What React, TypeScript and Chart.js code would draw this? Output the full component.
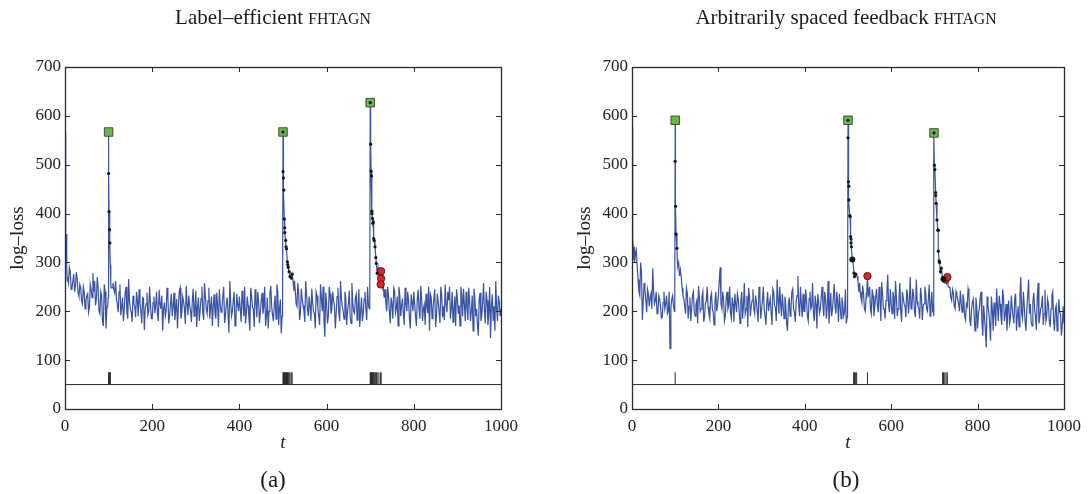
import React, { useEffect, useRef } from 'react';
import { Chart, registerables } from 'chart.js';

Chart.register(...registerables);

type P = [number, number];

const FONT = '"Liberation Serif", "Times New Roman", serif';
const STEP = 4; // main samples at t = 0, 4, 8, ...; mid samples at t = 2, 6, 10, ...
const MID_OFFSET = 2;
const X_MIN = 0;
const X_MAX = 1000;
const Y_MIN = 0;
const Y_MAX = 700;
const X_STEP = 200;
const Y_STEP = 100;
const FEEDBACK_BASE = 50;
const FEEDBACK_TOP = 75;

const titleA = 'Label–efficient';
const titleB = 'Arbitrarily spaced feedback';
const methodName = 'FHTAGN';
const yLabel = 'log–loss';
const xLabel = 't';

// ---------- Panel (a) ----------
// log-loss at t = 0, 4, 8, ..., 1000
const logLossA: number[] = [
  560, 285, 258, 282, 248, 276, 252, 266, 230, 248,
  215, 240, 222, 236, 208, 245, 278, 262, 225, 248,
  195, 232, 170, 240, 205, 250, 250, 248, 245, 262,
  215, 240, 192, 228, 205, 250, 185, 220, 198, 232,
  210, 240, 190, 218, 175, 226, 205, 238, 200, 215,
  185, 230, 212, 196, 244, 205, 160, 218, 200, 228,
  192, 236, 210, 182, 225, 208, 248, 198, 220, 174,
  215, 232, 200, 222, 190, 242, 208, 180, 226, 198,
  258, 205, 222, 185, 230, 210, 196, 238, 168, 215,
  204, 250, 192, 228, 156, 218, 200, 240, 185, 214,
  230, 178, 222, 250, 196, 212, 160, 230, 205, 245,
  188, 220, 198, 238, 210, 170, 228, 200, 252, 192,
  214, 184, 240, 206, 155, 560, 480, 360, 320, 290,
  270, 248, 255, 210, 238, 195, 225, 200, 262, 205,
  230, 180, 218, 195, 240, 206, 172, 228, 250, 148,
  215, 190, 236, 205, 222, 165, 230, 198, 262, 210,
  184, 226, 200, 242, 175, 218, 196, 235, 208, 168,
  228, 195, 240, 182, 212, 620, 420, 380, 330, 290,
  270, 260, 250, 238, 215, 250, 200, 228, 185, 242,
  206, 170, 232, 212, 195, 248, 200, 222, 165, 218,
  240, 190, 226, 205, 252, 180, 214, 236, 196, 160,
  228, 205, 245, 190, 218, 176, 232, 210, 255, 198,
  222, 185, 240, 202, 170, 226, 212, 250, 190, 215,
  240, 182, 220, 200, 160, 228, 205, 150, 238, 192,
  258, 175, 222, 198, 145, 235, 210, 262, 180, 220,
  205,
];
// log-loss at t = 2, 6, 10, ..., 998
const logLossAMid: number[] = [
  300, 270, 290, 245, 262, 240, 280, 238, 255, 222,
  250, 205, 232, 198, 255, 228, 240, 212, 270, 200,
  240, 180, 255, 165, 228, 400, 248, 258, 238, 225,
  198, 255, 210, 180, 238, 198, 266, 205, 178, 215,
  188, 222, 245, 200, 228, 162, 215, 192, 250, 185,
  218, 196, 240, 180, 215, 232, 205, 190, 248, 175,
  215, 190, 238, 202, 165, 240, 185, 230, 205, 252,
  192, 212, 178, 246, 205, 168, 228, 202, 250, 182,
  230, 195, 248, 210, 170, 235, 185, 212, 245, 198,
  232, 176, 215, 195, 262, 190, 224, 170, 236, 200,
  205, 242, 190, 175, 230, 185, 248, 208, 168, 220,
  240, 176, 222, 195, 250, 190, 165, 238, 210, 180,
  232, 255, 172, 224, 250, 450, 380, 340, 300, 275,
  265, 230, 215, 258, 182, 246, 212, 178, 236, 190,
  212, 246, 200, 165, 232, 190, 255, 200, 180, 238,
  175, 250, 195, 240, 212, 196, 248, 180, 225, 200,
  240, 172, 215, 190, 258, 200, 228, 182, 245, 200,
  180, 225, 206, 250, 165, 600, 400, 380, 320, 280,
  270, 260, 250, 240, 200, 232, 175, 215, 248, 196,
  230, 250, 190, 226, 172, 215, 240, 185, 235, 200,
  215, 170, 244, 185, 226, 205, 172, 210, 250, 235,
  185, 225, 168, 236, 200, 250, 188, 182, 215, 240,
  250, 205, 178, 230, 245, 195, 170, 232, 246, 180,
  210, 248, 180, 232, 246, 190, 172, 226, 180, 220,
  200, 240, 172, 250, 212, 180, 160, 205, 232, 190,
];

// finely sampled stretches around the spikes: [t, log-loss]
const spikesA: P[][] = [
  [[0, 565], [1, 430], [2, 300], [3, 358], [4, 288], [5, 262]],
  [[98, 212], [99, 228], [100, 567], [100, 482], [101, 404], [102, 367], [103, 340], [104, 295], [105, 255], [106, 248]],
  [[498, 190], [499, 210], [500, 567], [500, 486], [501, 473], [502, 448], [503, 389], [504, 371], [504, 361], [506, 345], [507, 332], [508, 328], [510, 301], [511, 295], [512, 290], [514, 281], [516, 271], [519, 268], [521, 276], [523, 262], [525, 242], [527, 255], [529, 232]],
  [[698, 205], [699, 215], [700, 627], [701, 542], [702, 487], [703, 477], [704, 405], [704, 400], [705, 390], [706, 380], [707, 383], [708, 349], [709, 345], [711, 332], [713, 310], [714, 298], [716, 278], [718, 290], [720, 272], [722, 280], [723, 262], [724, 255], [726, 268], [728, 248], [730, 255], [732, 228], [734, 245]],
];

const squaresA: P[] = [[100, 567], [500, 567], [700, 627]];
const dotsA: P[] = [
  [100, 482], [101, 404], [102, 367], [103, 340],
  [500, 567], [500, 486], [501, 473], [502, 448], [503, 389], [504, 371], [504, 361], [506, 345], [507, 332], [508, 328], [510, 301], [511, 295], [512, 290], [514, 281], [516, 271], [519, 268], [521, 276],
  [700, 627], [701, 542], [702, 487], [703, 477], [704, 405], [704, 400], [705, 390], [706, 380], [707, 383], [708, 349], [709, 345], [711, 332], [713, 310], [714, 298], [716, 278],
];
const bigDotsA: P[] = [];
const redsA: P[] = [[725, 282], [725, 267], [724, 255]];
const feedbackA: number[] = [
  100, 101, 102, 103, 104,
  500, 501, 502, 503, 504, 506, 507, 508, 510, 511, 512, 514, 516, 519, 521,
  700, 701, 702, 703, 704, 705, 706, 708, 709, 711, 713, 714, 716, 720, 724, 725,
];

// ---------- Panel (b) ----------
const logLossB: number[] = [
  575, 330, 318, 292, 240, 300, 182, 258, 222, 245,
  210, 236, 288, 215, 240, 198, 225, 186, 218, 205,
  232, 200, 124, 225, 212, 250, 250, 300, 285, 248,
  225, 195, 238, 210, 180, 232, 200, 215, 175, 228,
  205, 240, 190, 222, 210, 185, 236, 198, 218, 200,
  232, 290, 205, 222, 190, 240, 212, 196, 228, 178,
  215, 236, 200, 222, 185, 258, 205, 168, 230, 210,
  245, 195, 220, 178, 232, 205, 250, 190, 216, 200,
  226, 172, 240, 208, 265, 195, 218, 236, 185, 212,
  160, 228, 205, 246, 198, 220, 272, 190, 215, 236,
  200, 222, 180, 240, 210, 195, 232, 165, 218, 205,
  250, 190, 226, 210, 175, 238, 202, 256, 195, 220,
  236, 185, 214, 198, 175, 590, 450, 360, 300, 280,
  272, 255, 240, 218, 236, 200, 272, 230, 205, 245,
  190, 228, 212, 250, 180, 236, 205, 222, 275, 198,
  216, 240, 185, 230, 205, 258, 178, 226, 210, 245,
  195, 270, 210, 232, 188, 220, 205, 248, 182, 215,
  236, 200, 255, 210, 198, 565, 490, 420, 330, 290,
  268, 262, 250, 240, 248, 222, 238, 205, 232, 215,
  242, 198, 225, 182, 210, 235, 170, 218, 192, 228,
  165, 205, 240, 150, 188, 126, 212, 175, 230, 160,
  198, 246, 180, 215, 172, 228, 195, 160, 222, 185,
  208, 175, 236, 190, 168, 270, 185, 212, 160, 232,
  195, 178, 220, 205, 162, 258, 188, 210, 172, 244,
  190, 215, 168, 232, 180, 205, 160, 225, 195, 170,
  175,
];
const logLossBMid: number[] = [
  340, 305, 325, 265, 232, 280, 220, 245, 198, 235,
  228, 205, 240, 222, 195, 232, 210, 188, 240, 215,
  195, 240, 205, 232, 215, 400, 295, 295, 270, 232,
  210, 248, 185, 228, 205, 240, 190, 222, 252, 200,
  230, 178, 216, 250, 195, 228, 205, 172, 240, 212,
  262, 215, 240, 180, 225, 205, 250, 185, 215, 236,
  198, 225, 175, 240, 212, 195, 232, 248, 190, 222,
  205, 232, 198, 250, 185, 222, 205, 172, 240, 215,
  198, 246, 212, 180, 225, 250, 190, 208, 230, 175,
  215, 190, 240, 205, 178, 232, 210, 250, 188, 200,
  245, 190, 226, 205, 258, 180, 215, 236, 196, 230,
  212, 240, 185, 262, 205, 190, 228, 210, 240, 178,
  210, 228, 190, 245, 210, 450, 400, 350, 310, 275,
  265, 240, 228, 252, 205, 230, 215, 250, 195, 232,
  210, 246, 198, 226, 260, 205, 185, 238, 212, 245,
  195, 228, 262, 190, 225, 200, 240, 215, 188, 232,
  220, 205, 246, 198, 265, 210, 185, 230, 212, 250,
  205, 225, 190, 240, 180, 500, 440, 380, 300, 280,
  265, 260, 255, 250, 228, 245, 210, 240, 225, 200,
  218, 235, 190, 215, 246, 182, 205, 225, 160, 210,
  195, 228, 178, 212, 160, 230, 196, 140, 205, 218,
  170, 210, 232, 190, 245, 180, 215, 202, 175, 232,
  190, 225, 160, 210, 232, 195, 240, 178, 205, 265,
  215, 170, 238, 190, 225, 175, 205, 232, 195, 180,
  225, 180, 205, 240, 160, 212, 185, 198, 150, 210,
];

const spikesB: P[][] = [
  [[0, 577], [1, 460], [2, 350], [3, 330], [4, 305], [5, 332], [6, 300]],
  [[98, 200], [99, 222], [100, 591], [100, 507], [101, 415], [102, 358], [104, 329], [105, 300], [106, 292], [108, 300], [110, 272]],
  [[498, 188], [499, 200], [500, 591], [500, 555], [501, 465], [502, 456], [502, 428], [504, 396], [505, 394], [506, 353], [507, 348], [507, 340], [508, 332], [510, 306], [511, 305], [514, 278], [515, 271], [518, 276], [521, 272], [523, 262], [525, 240], [527, 258]],
  [[543, 225], [545, 272], [547, 230]],
  [[697, 205], [698, 190], [699, 565], [700, 499], [701, 490], [703, 443], [703, 437], [704, 421], [706, 387], [708, 366], [709, 366], [709, 323], [711, 303], [712, 300], [714, 281], [716, 288], [719, 269], [721, 266], [723, 262], [726, 265], [728, 258], [730, 270], [732, 250]],
];

const squaresB: P[] = [[100, 591], [500, 591], [699, 565]];
const dotsB: P[] = [
  [100, 507], [101, 415], [102, 358], [104, 329],
  [500, 591], [500, 555], [501, 465], [502, 456], [502, 428], [504, 396], [505, 394], [506, 353], [507, 348], [507, 340], [508, 332], [511, 305], [514, 278], [515, 271], [518, 276],
  [699, 565], [700, 499], [701, 490], [703, 443], [703, 437], [704, 421], [706, 387], [708, 366], [709, 366], [709, 323], [711, 303], [712, 300], [714, 281], [716, 288], [719, 269],
];
const bigDotsB: P[] = [[510, 306], [721, 266]];
const redsB: P[] = [[545, 272], [726, 265], [730, 270]];
const feedbackB: number[] = [100, 513, 515, 517, 520, 545, 719, 721, 724, 727, 730];

// ---------- helpers ----------
function buildLine(main: number[], mid: number[], spikes: P[][]) {
  const pts: { x: number; y: number }[] = [];
  const covered = (t: number) => spikes.some((s) => t >= s[0][0] && t <= s[s.length - 1][0]);
  main.forEach((v, i) => {
    const t = i * STEP;
    if (!covered(t)) pts.push({ x: t, y: v });
  });
  mid.forEach((v, i) => {
    const t = i * STEP + MID_OFFSET;
    if (!covered(t)) pts.push({ x: t, y: v });
  });
  spikes.forEach((s) => s.forEach(([x, y]) => pts.push({ x, y })));
  pts.sort((a, b) => a.x - b.x);
  return pts;
}

function toPts(arr: P[]) {
  return arr.map(([x, y]) => ({ x, y }));
}

function buildRug(times: number[]) {
  const out: { x: number; y: number | null }[] = [];
  times.forEach((t) => {
    out.push({ x: t, y: FEEDBACK_BASE }, { x: t, y: FEEDBACK_TOP }, { x: t, y: null });
  });
  return out;
}

const boxPlugin = {
  id: 'matlabBox',
  afterDatasetsDraw(chart: any) {
    const { ctx, chartArea } = chart;
    const { left, right, top, bottom } = chartArea;
    const xs = chart.scales.x;
    const ys = chart.scales.y;
    const L = 5;
    ctx.save();
    ctx.strokeStyle = '#2a2a2a';
    ctx.lineWidth = 1;
    ctx.beginPath();
    xs.ticks.forEach((t: any) => {
      const px = Math.round(xs.getPixelForValue(t.value)) + 0.5;
      ctx.moveTo(px, bottom);
      ctx.lineTo(px, bottom - L);
      ctx.moveTo(px, top);
      ctx.lineTo(px, top + L);
    });
    ys.ticks.forEach((t: any) => {
      const py = Math.round(ys.getPixelForValue(t.value)) + 0.5;
      ctx.moveTo(left, py);
      ctx.lineTo(left + L, py);
      ctx.moveTo(right, py);
      ctx.lineTo(right - L, py);
    });
    ctx.stroke();
    ctx.lineWidth = 1.3;
    ctx.strokeRect(Math.round(left) + 0.5, Math.round(top) + 0.5, Math.round(right - left), Math.round(bottom - top));
    ctx.restore();
  },
};

interface PanelCfg {
  main: number[];
  mid: number[];
  spikes: P[][];
  squares: P[];
  dots: P[];
  bigDots: P[];
  reds: P[];
  rug: number[];
  rightPad: number;
}

function makeChart(canvas: HTMLCanvasElement, cfg: PanelCfg) {
  const tickFont = { family: FONT, size: 17 };
  const plain = (v: any) => String(v);
  return new Chart(canvas, {
    type: 'line',
    data: {
      datasets: [
        {
          data: toPts(cfg.dots),
          showLine: false,
          pointRadius: 1.6,
          pointBackgroundColor: '#151515',
          pointBorderWidth: 0,
          order: 0,
        } as any,
        {
          data: toPts(cfg.bigDots),
          showLine: false,
          pointRadius: 3,
          pointBackgroundColor: '#151515',
          pointBorderWidth: 0,
          order: 1,
        } as any,
        {
          data: toPts(cfg.reds),
          showLine: false,
          pointRadius: 3.7,
          pointBackgroundColor: '#e5202a',
          pointBorderColor: '#3b1a1a',
          pointBorderWidth: 0.9,
          order: 1,
        } as any,
        {
          data: toPts(cfg.squares),
          showLine: false,
          pointStyle: 'rect',
          pointRadius: 6,
          pointBackgroundColor: '#66bb44',
          pointBorderColor: '#4a4a4a',
          pointBorderWidth: 1,
          order: 2,
        } as any,
        {
          data: buildLine(cfg.main, cfg.mid, cfg.spikes),
          borderColor: '#3853a6',
          borderWidth: 1.2,
          pointRadius: 0,
          tension: 0,
          order: 3,
        } as any,
        {
          data: [
            { x: X_MIN, y: FEEDBACK_BASE },
            { x: X_MAX, y: FEEDBACK_BASE },
          ],
          borderColor: '#2a2a2a',
          borderWidth: 1,
          pointRadius: 0,
          order: 4,
        } as any,
        {
          data: buildRug(cfg.rug),
          borderColor: '#2a2a2a',
          borderWidth: 1,
          pointRadius: 0,
          spanGaps: false,
          order: 4,
        } as any,
      ],
    },
    options: {
      animation: false,
      responsive: false,
      events: [],
      layout: { padding: { left: 0, top: 67, right: cfg.rightPad, bottom: 40 } },
      plugins: {
        legend: { display: false },
        tooltip: { enabled: false },
        title: { display: false },
      },
      scales: {
        x: {
          type: 'linear',
          min: X_MIN,
          max: X_MAX,
          ticks: { stepSize: X_STEP, font: tickFont, color: '#222', padding: 7, maxRotation: 0, autoSkip: false, callback: plain },
          grid: { display: false, drawTicks: false },
          border: { display: false },
          title: {
            display: true,
            text: xLabel,
            color: '#222',
            font: { family: FONT, size: 19, style: 'italic' },
            padding: { top: 0, bottom: 0 },
          },
          afterFit: (s: any) => {
            s.height = 45;
          },
        },
        y: {
          type: 'linear',
          min: Y_MIN,
          max: Y_MAX,
          ticks: { stepSize: Y_STEP, font: tickFont, color: '#222', padding: 4, autoSkip: false, callback: plain },
          grid: { display: false, drawTicks: false },
          border: { display: false },
          title: {
            display: true,
            text: yLabel,
            color: '#222',
            font: { family: FONT, size: 19 },
            padding: { top: 7, bottom: 0 },
          },
          afterFit: (s: any) => {
            s.width = 65;
          },
        },
      },
    } as any,
    plugins: [boxPlugin],
  });
}

export default function App() {
  const refA = useRef<HTMLCanvasElement>(null);
  const refB = useRef<HTMLCanvasElement>(null);

  useEffect(() => {
    const a = makeChart(refA.current!, {
      main: logLossA,
      mid: logLossAMid,
      spikes: spikesA,
      squares: squaresA,
      dots: dotsA,
      bigDots: bigDotsA,
      reds: redsA,
      rug: feedbackA,
      rightPad: 43,
    });
    const b = makeChart(refB.current!, {
      main: logLossB,
      mid: logLossBMid,
      spikes: spikesB,
      squares: squaresB,
      dots: dotsB,
      bigDots: bigDotsB,
      reds: redsB,
      rug: feedbackB,
      rightPad: 21,
    });
    return () => {
      a.destroy();
      b.destroy();
    };
  }, []);

  const titleStyle: React.CSSProperties = {
    position: 'absolute',
    top: 7,
    width: 420,
    textAlign: 'center',
    fontSize: 21,
    lineHeight: 1,
    whiteSpace: 'nowrap',
  };
  const capStyle: React.CSSProperties = { fontSize: '0.75em' };
  const subStyle: React.CSSProperties = {
    position: 'absolute',
    top: 468,
    width: 100,
    textAlign: 'center',
    fontSize: 23,
    lineHeight: 1,
  };

  return (
    <div
      style={{
        position: 'fixed',
        left: 0,
        top: 0,
        width: 1088,
        height: 494,
        background: '#fff',
        fontFamily: FONT,
        color: '#1a1a1a',
        overflow: 'hidden',
      }}
    >
      <canvas ref={refA} width={544} height={494} style={{ position: 'absolute', left: 0, top: 0 }} />
      <canvas ref={refB} width={521} height={494} style={{ position: 'absolute', left: 567, top: 0 }} />
      <div style={{ ...titleStyle, left: 273 - 210 }}>
        {titleA} <span style={capStyle}>{methodName}</span>
      </div>
      <div style={{ ...titleStyle, left: 846 - 210 }}>
        {titleB} <span style={capStyle}>{methodName}</span>
      </div>
      <div style={{ ...subStyle, left: 273 - 50 }}>(a)</div>
      <div style={{ ...subStyle, left: 846 - 50 }}>(b)</div>
    </div>
  );
}
